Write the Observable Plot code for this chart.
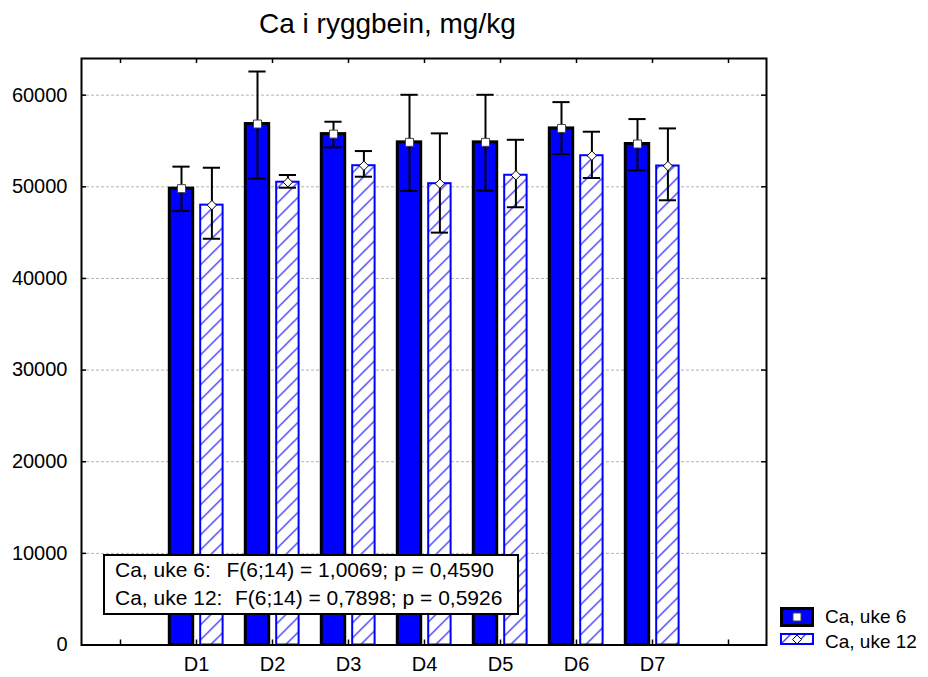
<!DOCTYPE html>
<html><head><meta charset="utf-8">
<script src="https://cdn.jsdelivr.net/npm/d3@7"></script>
<script src="https://cdn.jsdelivr.net/npm/@observablehq/plot@0.6"></script>
<style>body{margin:0;background:white;} #chart svg{display:block;}</style>
</head><body><div id="chart"></div>
<script>
// ---- data ----
const title = "Ca i ryggbein, mg/kg";
const categories = ["D1", "D2", "D3", "D4", "D5", "D6", "D7"];
const seriesNames = ["Ca, uke 6", "Ca, uke 12"];
const mean6 = [49800, 56850, 55750, 54850, 54850, 56370, 54670];
const lo6   = [47350, 50900, 54300, 49550, 49580, 53580, 51800];
const hi6   = [52200, 62580, 57100, 60040, 60040, 59240, 57390];
const mean12 = [48000, 50500, 52300, 50340, 51260, 53390, 52270];
const lo12   = [44330, 49900, 51100, 45000, 47770, 50960, 48530];
const hi12   = [52080, 51290, 53900, 55830, 55130, 56010, 56370];
const yTicks = [0, 10000, 20000, 30000, 40000, 50000, 60000];
const statsLabels = ["Ca, uke 6:", "Ca, uke 12:"];
const statsTexts = ["F(6;14) = 1,0069; p = 0,4590", "F(6;14) = 0,7898; p = 0,5926"];

// ---- layout ----
const W = 928, H = 677, mL = 81, mR = 162, mT = 58, mB = 32.5;
const fw = W - mL - mR, fh = H - mT - mB;
const xDomain = [" ", ...categories, "  "];
const rows6 = categories.map((c, i) => ({cat: c, mean: mean6[i], lo: lo6[i], hi: hi6[i]}));
const rows12 = categories.map((c, i) => ({cat: c, mean: mean12[i], lo: lo12[i], hi: hi12[i]}));
const BLUE = "#0000ff";
const d6 = -15, d12 = 15.4;

const chart = Plot.plot({
  width: W, height: H,
  marginLeft: mL, marginRight: mR, marginTop: mT, marginBottom: mB,
  style: {fontFamily: "'Liberation Sans', Arial, sans-serif", fontSize: "20px", color: "black", background: "white"},
  x: {type: "band", domain: xDomain, padding: 0},
  y: {domain: [0, 64000]},
  marks: [
    Plot.gridY(yTicks.slice(1), {stroke: "#b4b4b4", strokeOpacity: 1, strokeDasharray: "3,2"}),
    Plot.barY(rows6, {x: "cat", y: "mean", dx: d6, insetLeft: 26.3, insetRight: 26.3, fill: BLUE, stroke: "black", strokeWidth: 3}),
    Plot.barY(rows12, {x: "cat", y: "mean", dx: d12, insetLeft: 26.8, insetRight: 26.8, fill: "url(#hatch)", stroke: BLUE, strokeWidth: 2}),
    Plot.ruleX(rows6, {x: "cat", y1: "lo", y2: "hi", dx: d6, stroke: "black", strokeWidth: 2}),
    Plot.ruleX(rows12, {x: "cat", y1: "lo", y2: "hi", dx: d12, stroke: "black", strokeWidth: 2}),
    Plot.tickY(rows6, {x: "cat", y: "hi", dx: d6, insetLeft: 29.4, insetRight: 29.4, stroke: "black", strokeWidth: 2}),
    Plot.tickY(rows6, {x: "cat", y: "lo", dx: d6, insetLeft: 29.4, insetRight: 29.4, stroke: "black", strokeWidth: 2}),
    Plot.tickY(rows12, {x: "cat", y: "hi", dx: d12, insetLeft: 29.4, insetRight: 29.4, stroke: "black", strokeWidth: 2}),
    Plot.tickY(rows12, {x: "cat", y: "lo", dx: d12, insetLeft: 29.4, insetRight: 29.4, stroke: "black", strokeWidth: 2}),
    Plot.dot(rows6, {x: "cat", y: "mean", dx: d6, symbol: "square", r: 4.5, fill: "white", stroke: "#444", strokeWidth: 1}),
    Plot.dot(rows12, {x: "cat", y: "mean", dx: d12, symbol: "diamond2", r: 4.2, fill: "white", stroke: "black", strokeWidth: 1}),
    // inward ticks
    Plot.tickY(yTicks, {y: d => d, insetRight: fw - 5, stroke: "black", strokeWidth: 1.5}),
    Plot.tickY(yTicks, {y: d => d, insetLeft: fw - 5, stroke: "black", strokeWidth: 1.5}),
    Plot.tickX(xDomain, {x: d => d, insetTop: fh - 5, stroke: "black", strokeWidth: 1.5}),
    Plot.tickX(xDomain, {x: d => d, insetBottom: fh - 5, stroke: "black", strokeWidth: 1.5}),
    Plot.axisY(yTicks, {tickSize: 0, tickPadding: 14, tickFormat: "d", label: null, fontSize: 20}),
    Plot.axisX(categories, {tickSize: 0, tickPadding: 12, label: null, fontSize: 20}),
    Plot.frame({stroke: "black", strokeWidth: 2})
  ]
});

const svg = d3.select(chart);
// hatch pattern
const pat = svg.insert("defs", ":first-child").append("pattern")
  .attr("id", "hatch").attr("patternUnits", "userSpaceOnUse")
  .attr("width", 15).attr("height", 15);
pat.append("rect").attr("width", 15).attr("height", 15).attr("fill", "white");
pat.append("path").attr("d", "M0,15L15,0M-3.75,3.75L3.75,-3.75M11.25,18.75L18.75,11.25")
  .attr("stroke", "#4040ff").attr("stroke-width", 1.4);

// title
svg.append("text").attr("x", 259).attr("y", 33).attr("font-size", 28)
  .attr("text-anchor", "start").attr("fill", "black").text(title);

// stats box
const sb = svg.append("g").attr("text-anchor", "start");
sb.append("rect").attr("x", 104).attr("y", 555).attr("width", 414).attr("height", 59)
  .attr("fill", "white").attr("stroke", "black").attr("stroke-width", 2);
const fx = [226.5, 235];
statsLabels.forEach((lab, i) => {
  const t = sb.append("text").attr("y", 577 + i * 28).attr("font-size", 21)
    .attr("text-anchor", "start").attr("fill", "black");
  t.append("tspan").attr("x", 115).text(lab);
  t.append("tspan").attr("x", fx[i]).text(statsTexts[i]);
});

// legend
const lg = svg.append("g").attr("text-anchor", "start");
lg.append("rect").attr("x", 781.5).attr("y", 608.5).attr("width", 31).attr("height", 17)
  .attr("fill", BLUE).attr("stroke", "black").attr("stroke-width", 3);
lg.append("path").attr("transform", "translate(797,617)")
  .attr("d", d3.symbol(d3.symbolSquare, Math.PI * 4.5 * 4.5)())
  .attr("fill", "white").attr("stroke", "#444");
lg.append("rect").attr("x", 781).attr("y", 634).attr("width", 32).attr("height", 10)
  .attr("fill", "url(#hatch)").attr("stroke", BLUE).attr("stroke-width", 2);
lg.append("path").attr("transform", "translate(797,639.5)")
  .attr("d", d3.symbol(d3.symbolDiamond2, Math.PI * 4 * 4)())
  .attr("fill", "white").attr("stroke", "black");
seriesNames.forEach((n, i) => {
  lg.append("text").attr("x", 825).attr("y", 623 + i * 25).attr("font-size", 19)
    .attr("text-anchor", "start").attr("fill", "black").text(n);
});

document.getElementById("chart").appendChild(chart);
</script>
</body></html>
